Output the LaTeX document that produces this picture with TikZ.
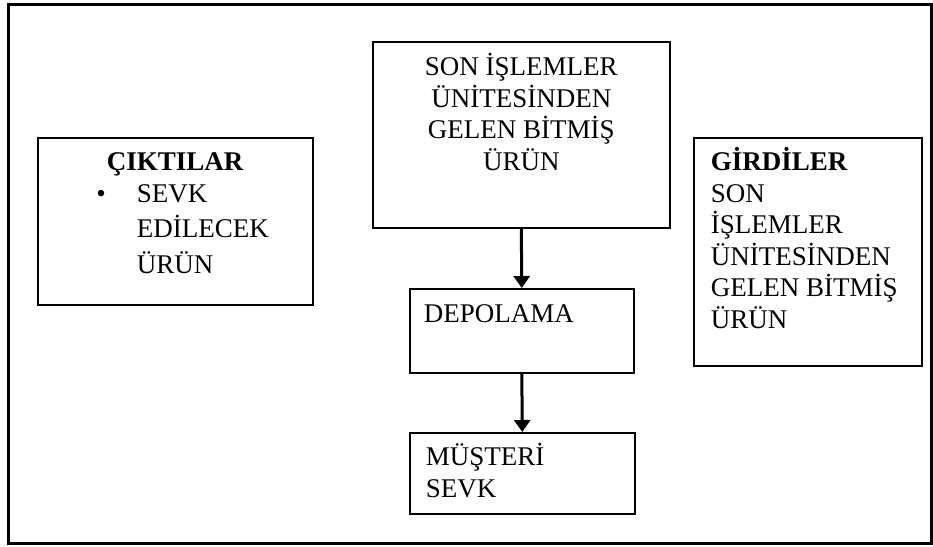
\documentclass[tikz,border=0pt]{standalone}
\usepackage{fontspec}
\setmainfont{Liberation Serif}
\usetikzlibrary{arrows.meta}

\begin{document}
\begin{tikzpicture}[x=1pt,y=-1pt,
    kutu/.style={draw, line width=1.6pt, inner sep=0pt, anchor=north west,
      font=\fontsize{27pt}{31.5pt}\selectfont},
    ok/.style={line width=3pt, -{Triangle[length=12pt,width=16pt]}}]
          \useasboundingbox (0,0) rectangle (933,546);
          \draw[line width=3pt] (8,4) rectangle (931,543);
          \node[kutu] (cikti) at (37,137) {\parbox[t][167pt][t]{275pt}{\centering\rule{0pt}{33pt}\textbf{ÇIKTILAR}\par
            \raggedright\leftskip=99pt\leavevmode\llap{\textbullet\hspace{31pt}}SEVK\\[4pt]EDİLECEK\\[4pt]ÜRÜN}};
          \node[kutu] (son) at (372,41) {\parbox[t][186pt][t]{297pt}{\centering\rule{0pt}{34pt}SON İŞLEMLER\\ÜNİTESİNDEN\\GELEN BİTMİŞ\\ÜRÜN}};
          \node[kutu] (depo) at (409,288) {\parbox[t][84pt][t]{224pt}{\leftskip=14pt\rule{0pt}{34pt}DEPOLAMA}};
          \node[kutu] (musteri) at (409,432) {\parbox[t][81pt][t]{225pt}{\leftskip=16pt\rule{0pt}{33pt}MÜŞTERİ\\SEVK}};
          \node[kutu] (girdi) at (693,137) {\parbox[t][228pt][t]{228pt}{\leftskip=17pt\rule{0pt}{33pt}\textbf{GİRDİLER}\\SON\\İŞLEMLER\\ÜNİTESİNDEN\\GELEN BİTMİŞ\\ÜRÜN}};
          \draw[ok] (son.south) -- (depo.north);
          \draw[ok] (depo.south) -- (musteri.north);
        \end{tikzpicture}
\end{document}
